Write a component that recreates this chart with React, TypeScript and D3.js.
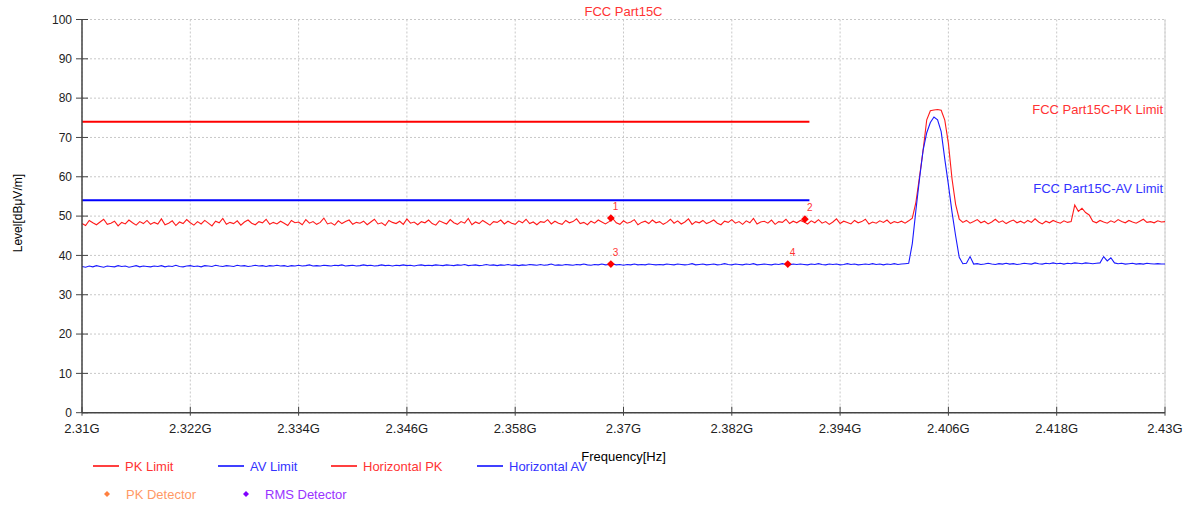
import React from "react";
import * as d3 from "d3";

// ---------- data ----------
const freqStart = 2.31;
const freqEnd = 2.43;
const xTickValues = [2.31, 2.322, 2.334, 2.346, 2.358, 2.37, 2.382, 2.394, 2.406, 2.418, 2.43];
const xTickLabels = ["2.31G", "2.322G", "2.334G", "2.346G", "2.358G", "2.37G", "2.382G", "2.394G", "2.406G", "2.418G", "2.43G"];
const yTickValues = [0, 10, 20, 30, 40, 50, 60, 70, 80, 90, 100];

const pkLimitFreq = [2.31, 2.3906];
const pkLimitLevel = [74, 74];
const avLimitFreq = [2.31, 2.3906];
const avLimitLevel = [54, 54];

const horizontalPK = [
  48.1, 47.6, 48.9, 48.3, 47.8, 48.5, 49.2, 47.9, 48.2, 48.7, 47.5, 48.4, 48.0, 49.0, 48.3, 47.7, 48.6, 48.1, 48.9, 47.9,
  48.4, 48.0, 49.3, 47.8, 48.2, 48.8, 47.6, 48.5, 48.1, 49.1, 48.3, 47.7, 48.6, 48.0, 48.9, 48.2, 47.5, 48.7, 48.3, 49.4,
  47.9, 48.4, 48.1, 48.8, 47.7, 48.5, 49.0, 48.2, 47.8, 48.6, 48.3, 49.2, 47.9, 48.4, 48.0, 48.7, 48.2, 47.6, 48.9, 48.3,
  48.5, 47.8, 49.1, 48.2, 48.6, 47.9, 48.4, 49.5, 48.0, 48.3, 47.7, 48.8, 48.1, 48.6, 49.0, 47.9, 48.4, 48.2, 48.7, 47.8,
  48.5, 49.2, 48.0, 48.3, 47.6, 48.9, 48.4, 48.1, 48.7, 47.9, 49.3, 48.2, 48.5, 47.8, 48.6, 48.3, 49.0, 48.1, 47.7, 48.8,
  48.4, 48.0, 49.1, 48.3, 47.9, 48.6, 48.2, 49.4, 47.8, 48.5, 48.1, 48.9, 48.3, 47.7, 48.6, 48.4, 49.0, 48.0, 48.7, 48.2,
  47.9, 48.8, 48.3, 49.2, 48.1, 48.5, 47.8, 48.6, 48.4, 49.1, 48.0, 48.7, 48.2, 47.9, 48.9, 48.3, 48.6, 49.3, 48.1, 48.4,
  47.8, 48.7, 48.2, 49.0, 48.5, 48.0, 48.6, 49.4, 48.3, 47.9, 48.8, 48.2, 48.5, 49.1, 47.8, 48.4, 48.7, 48.1, 49.0, 48.3,
  48.6, 47.9, 48.4, 49.2, 48.2, 48.8, 48.0, 48.5, 49.3, 47.9, 48.6, 48.3, 48.9, 48.1, 48.5, 49.0, 48.2, 47.8, 48.7, 48.4,
  49.1, 48.2, 48.6, 47.9, 48.8, 48.3, 49.4, 48.0, 48.5, 48.7, 48.2, 49.0, 47.9, 48.6, 48.4, 49.2, 48.1, 48.7, 48.3, 48.9,
  48.5, 48.0, 48.8, 48.3, 49.1, 48.2, 48.6, 47.9, 48.5, 49.3, 48.1, 48.7, 48.4, 48.0, 48.9, 48.3, 48.6, 49.2, 48.0, 48.5,
  48.2, 48.8, 48.4, 49.0, 48.1, 48.6, 48.3, 48.7, 48.2, 48.8,
  49.5, 53.5, 60.0, 66.8, 74.5, 76.8, 77.0, 77.1, 76.9, 74.4, 68.5, 59.5, 53.0, 49.2,
  48.4, 48.9, 48.2, 48.6, 49.1, 48.3, 48.7, 48.0, 48.5, 49.2, 48.4, 48.8, 48.1, 48.6, 49.0, 48.3, 48.7, 48.2, 48.9, 48.4,
  49.3, 48.5, 48.0, 48.7, 48.3, 48.9, 48.5, 48.2, 48.8, 48.4,
  48.6, 52.8, 51.2, 52.0, 50.9, 50.3,
  48.7, 48.3, 48.9, 48.5, 48.2, 48.8, 48.4, 49.1, 48.6, 48.3, 48.9, 48.5, 48.2, 48.7, 49.2, 48.4, 48.6, 48.3, 48.8, 48.5,
  48.6,
];

const horizontalAV = [
  37.2, 37.0, 37.3, 37.1, 37.4, 37.2, 37.0, 37.3, 37.2, 37.1, 37.4, 37.2, 37.3, 37.0, 37.2, 37.4, 37.1, 37.3, 37.2, 37.1,
  37.3, 37.2, 37.4, 37.1, 37.3, 37.2, 37.5, 37.2, 37.1, 37.3, 37.4, 37.2, 37.3, 37.1, 37.4, 37.3, 37.2, 37.5, 37.3, 37.2,
  37.4, 37.3, 37.2, 37.5, 37.3, 37.4, 37.2, 37.3, 37.5, 37.3, 37.4, 37.2, 37.4, 37.3, 37.5, 37.3, 37.4, 37.2, 37.4, 37.3,
  37.5, 37.3, 37.4, 37.6, 37.3, 37.4, 37.3, 37.5, 37.4, 37.3, 37.5, 37.4, 37.6, 37.3, 37.4, 37.5, 37.3, 37.4, 37.6, 37.4,
  37.5, 37.3, 37.4, 37.6, 37.4, 37.5, 37.3, 37.5, 37.4, 37.6, 37.4, 37.5, 37.3, 37.5, 37.6, 37.4, 37.5, 37.4, 37.6, 37.5,
  37.4, 37.6, 37.5, 37.4, 37.6, 37.5, 37.7, 37.4, 37.5, 37.6, 37.4, 37.5, 37.7, 37.5, 37.6, 37.4, 37.6, 37.5, 37.7, 37.5,
  37.6, 37.4, 37.6, 37.5, 37.7, 37.6, 37.5, 37.7, 37.5, 37.6, 37.8, 37.5, 37.6, 37.5, 37.7, 37.6, 37.5, 37.7, 37.6, 37.8,
  37.6, 37.5, 37.7, 37.6, 37.8, 37.6, 37.7, 37.8, 37.6, 37.7, 37.5, 37.7, 37.6, 37.8, 37.6, 37.7, 37.6, 37.8, 37.7, 37.6,
  37.7, 37.6, 37.8, 37.7, 37.6, 37.8, 37.7, 37.6, 37.7, 37.9, 37.6, 37.7, 37.8, 37.6, 37.7, 37.8, 37.6, 37.7, 37.9, 37.7,
  37.6, 37.8, 37.7, 37.6, 37.8, 37.7, 37.9, 37.6, 37.7, 37.8, 37.7, 37.6, 37.8, 37.7, 37.9, 37.7, 37.6, 37.8, 37.7, 37.8,
  37.7, 37.6, 37.8, 37.7, 37.9, 37.7, 37.6, 37.8, 37.7, 37.8, 37.6, 37.7, 37.9, 37.7, 37.8, 37.6, 37.7, 37.8, 37.7, 37.9,
  37.7, 37.8, 37.6, 37.8, 37.7, 37.9, 37.7, 37.8, 37.9,
  38.0, 43.0, 51.5, 59.5, 66.8, 71.2, 73.8, 75.2, 74.5, 71.5, 64.5, 58.0, 51.0, 45.0, 39.5, 37.9,
  38.0, 39.7, 37.8, 37.9, 37.7, 37.8, 38.0, 37.8, 37.7, 37.9, 37.8, 38.0, 37.8, 37.9, 37.7, 37.8, 38.0, 37.9, 37.8, 38.1,
  37.9, 37.8, 38.0, 37.9, 38.1, 37.9, 38.0, 37.8, 38.0, 37.9, 38.1, 38.0, 37.9, 38.1, 38.0, 37.9, 38.0, 38.1,
  39.7, 38.6, 39.4, 38.1, 37.9, 38.0, 37.8, 37.9, 38.0, 37.8, 37.9, 37.8, 38.0, 37.9, 37.8, 37.9, 37.8, 37.8,
];

const markerFreq = [2.3686, 2.3901, 2.3686, 2.3882];
const markerLevel = [49.5, 49.2, 37.8, 37.8];
const markerLabel = ["1", "2", "3", "4"];

// ---------- layout ----------
const W = 1192;
const H = 507;
const left = 82;
const right = 1165;
const top = 19.5;
const bottom = 412.7;
const FONT = "'Liberation Sans', Arial, sans-serif";
const RED = "#ff0000";
const BLUE = "#0000ff";
const RED_TXT = "#ff3333";
const BLUE_TXT = "#3333ff";

export default function App() {
  const x = d3.scaleLinear().domain([freqStart, freqEnd]).range([left, right]);
  const y = d3.scaleLinear().domain([0, 100]).range([bottom, top]);

  const traceFreq = (n: number, i: number) => freqStart + ((freqEnd - freqStart) * i) / (n - 1);
  const line = d3
    .line<number>()
    .x((_, i, arr) => x(traceFreq(arr.length, i)))
    .y((v) => y(v));
  const limitLine = d3
    .line<[number, number]>()
    .x((d) => x(d[0]))
    .y((d) => y(d[1]));

  const square = d3.symbol().type(d3.symbolSquare);

  const legendRow1 = [
    { color: RED, text: "PK Limit", textColor: RED_TXT, x: 93 },
    { color: BLUE, text: "AV Limit", textColor: BLUE_TXT, x: 218 },
    { color: RED, text: "Horizontal PK", textColor: RED_TXT, x: 331 },
    { color: BLUE, text: "Horizontal AV", textColor: BLUE_TXT, x: 477 },
  ];

  return (
    <svg width={W} height={H} style={{ position: "absolute", left: 0, top: 0, background: "#fff" }} fontFamily={FONT}>
      {/* grid */}
      {xTickValues.map((v, i) => (
        <line key={"gx" + i} x1={x(v)} x2={x(v)} y1={top} y2={bottom} stroke="#c8c8c8" strokeDasharray="2,2" />
      ))}
      {yTickValues.map((v, i) => (
        <line key={"gy" + i} x1={left} x2={right} y1={y(v)} y2={y(v)} stroke="#c8c8c8" strokeDasharray="2,2" />
      ))}
      <line x1={right} x2={right} y1={top} y2={bottom} stroke="#d0d0d0" />

      {/* limits */}
      <path d={limitLine(pkLimitFreq.map((f, i) => [f, pkLimitLevel[i]]) as any) || ""} fill="none" stroke={RED} strokeWidth={2} />
      <path d={limitLine(avLimitFreq.map((f, i) => [f, avLimitLevel[i]]) as any) || ""} fill="none" stroke={BLUE} strokeWidth={2} />

      {/* traces */}
      <path d={line(horizontalPK) || ""} fill="none" stroke="#ff1a1a" strokeWidth={1.1} />
      <path d={line(horizontalAV) || ""} fill="none" stroke="#1a1aff" strokeWidth={1.1} />

      {/* axes */}
      <line x1={left} x2={left} y1={top} y2={bottom} stroke="#444" strokeWidth={1.5} />
      <line x1={left} x2={right} y1={bottom} y2={bottom} stroke="#444" strokeWidth={1.5} />
      {yTickValues.map((v, i) => (
        <g key={"ty" + i}>
          <line x1={left - 6} x2={left + 6} y1={y(v)} y2={y(v)} stroke="#444" />
          <text x={72} y={y(v) + 4.3} fontSize={12} textAnchor="end" fill="#222">
            {v}
          </text>
        </g>
      ))}
      {xTickValues.map((v, i) => (
        <g key={"tx" + i}>
          <line x1={x(v)} x2={x(v)} y1={bottom - 6} y2={bottom + 3} stroke="#444" />
          <text x={x(v)} y={432.5} fontSize={13} textAnchor="middle" fill="#222">
            {xTickLabels[i]}
          </text>
        </g>
      ))}

      {/* markers */}
      {markerFreq.map((f, i) => (
        <g key={"m" + i}>
          <path d={square.size(30)() || ""} transform={`translate(${x(f)},${y(markerLevel[i])}) rotate(45)`} fill={RED} />
          <text x={x(f) + 2} y={y(markerLevel[i]) - 8.5} fontSize={10} fill={RED_TXT}>
            {markerLabel[i]}
          </text>
        </g>
      ))}

      {/* titles */}
      <text x={(left + right) / 2} y={16} fontSize={13} textAnchor="middle" fill={RED_TXT}>
        FCC Part15C
      </text>
      <text x={1163} y={113.5} fontSize={13} textAnchor="end" fill={RED_TXT}>
        FCC Part15C-PK Limit
      </text>
      <text x={1163} y={193} fontSize={13} textAnchor="end" fill={BLUE_TXT}>
        FCC Part15C-AV Limit
      </text>
      <text x={(left + right) / 2} y={460.5} fontSize={13} textAnchor="middle" fill="#000">
        Frequency[Hz]
      </text>
      <text transform={`translate(21.5,${(top + bottom) / 2 - 3}) rotate(-90)`} fontSize={12} textAnchor="middle" fill="#000">
        Level[dBμV/m]
      </text>

      {/* legend */}
      {legendRow1.map((l, i) => (
        <g key={"l" + i}>
          <line x1={l.x} x2={l.x + 26} y1={466} y2={466} stroke={l.color} strokeWidth={1.5} />
          <text x={l.x + 32} y={470.6} fontSize={13} fill={l.textColor}>
            {l.text}
          </text>
        </g>
      ))}
      <path d={square.size(18)() || ""} transform="translate(107,494) rotate(45)" fill="#ff8040" />
      <text x={126} y={498.6} fontSize={13} fill="#ff9966">
        PK Detector
      </text>
      <path d={square.size(18)() || ""} transform="translate(246,494) rotate(45)" fill="#8000ff" />
      <text x={265} y={498.6} fontSize={13} fill="#9933ff">
        RMS Detector
      </text>
    </svg>
  );
}
